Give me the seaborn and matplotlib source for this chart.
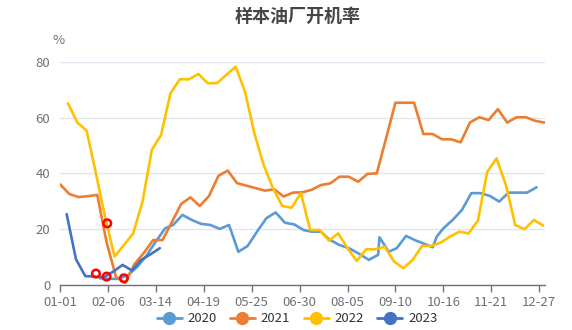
import matplotlib
matplotlib.use("Agg")
import matplotlib.pyplot as plt
from matplotlib.lines import Line2D
import seaborn as sns
import pandas as pd

# ---------------- data ----------------
tick_days = [0, 36, 72, 108, 144, 180, 216, 252, 288, 324, 360]
tick_labels = ['01-01', '02-06', '03-14', '04-19', '05-25', '06-30',
               '08-05', '09-10', '10-16', '11-21', '12-27']

days_2020 = [30, 37, 44, 51, 58, 65, 71, 79, 85, 92, 99, 106, 113, 120, 127,
             134, 141, 148, 155, 162, 169, 176, 183, 189, 196, 202, 210, 217,
             225, 232, 239, 240, 247, 253, 260, 267, 273, 280, 283, 288, 295,
             302, 309, 316, 323, 330, 337, 344, 351, 358]
vals_2020 = [2.4, 2.2, 2.2, 3.5, 6.5, 10.5, 14.9, 20.3, 21.5, 25.1, 23.3, 21.9,
             21.5, 20.1, 21.5, 11.9, 14.0, 19.1, 23.9, 26.0, 22.3, 21.7, 19.7,
             19.1, 19.1, 16.4, 14.3, 13.2, 11.1, 9.0, 10.8, 17.1, 11.9, 13.2,
             17.6, 16.0, 14.9, 13.5, 17.3, 20.3, 23.3, 26.9, 32.9, 32.9, 31.9,
             29.9, 33.1, 33.1, 33.1, 35.0]

days_2021 = list(range(0, 365, 7))
vals_2021 = [36.1, 32.6, 31.5, 31.8, 32.3, 15.3, 3.0, 0.8, 7.5, 11.5, 16.1, 16.1,
             22.5, 29.0, 31.4, 28.3, 31.9, 39.1, 41.0, 36.5, 35.6, 34.7, 33.8,
             34.3, 31.7, 33.1, 33.2, 34.1, 35.8, 36.4, 38.8, 38.8, 37.0, 39.8,
             40.0, 52.6, 65.3, 65.3, 65.3, 54.1, 54.1, 52.2, 52.2, 51.1, 58.2,
             60.1, 59.1, 63.0, 58.2, 60.1, 60.1, 58.8, 58.2]

days_2022 = list(range(6, 365, 7))
vals_2022 = [65.1, 58.2, 55.3, 40.0, 24.0, 10.2, 14.3, 18.5, 29.9, 48.4, 53.8,
             68.7, 73.7, 73.7, 75.6, 72.3, 72.3, 75.3, 78.2, 69.3, 54.4, 43.0,
             34.7, 28.3, 27.7, 32.9, 19.7, 19.7, 15.9, 18.5, 13.2, 8.6, 12.8,
             12.8, 13.7, 8.4, 6.0, 9.0, 14.0, 14.0, 15.2, 17.3, 19.1, 18.5,
             23.1, 40.6, 45.4, 35.8, 21.5, 20.0, 23.3, 21.3]

days_2023 = [5, 12, 19, 26, 33, 40, 47, 54, 61, 68, 75]
vals_2023 = [25.4, 9.2, 3.2, 3.0, 2.8, 4.8, 7.2, 5.2, 9.0, 11.0, 13.2]

circle_days = [27, 35, 48, 35.5]
circle_vals = [4.1, 3.0, 2.4, 22.1]

years = ['2020', '2021', '2022', '2023']
colors = ['#5B9BD5', '#ED7D31', '#FFC000', '#4472C4']

# ---------------- figure ----------------
sns.set_theme(style="white")
plt.rcParams['font.family'] = ['Noto Sans CJK SC', 'DejaVu Sans']

frames = []
for y, d, v in zip(years, [days_2020, days_2021, days_2022, days_2023],
                   [vals_2020, vals_2021, vals_2022, vals_2023]):
    frames.append(pd.DataFrame({'day': d, 'value': v, 'year': y}))
df = pd.concat(frames, ignore_index=True)

fig = plt.figure(figsize=(5.72, 3.30), dpi=100)
ax = fig.add_axes([60 / 572, 45 / 330, (544.5 - 60) / 572, (285 - 61.7) / 330])

sns.lineplot(data=df, x='day', y='value', hue='year', palette=dict(zip(years, colors)),
             estimator=None, sort=False, lw=1.9, legend=False, ax=ax)

ax.scatter(circle_days, circle_vals, s=30, facecolors='none', edgecolors='#FF0000',
           linewidths=1.8, zorder=5)

ax.set_xlim(0, 364)
ax.set_ylim(0, 80)
ax.set_yticks([0, 20, 40, 60, 80])
ax.set_xticks(tick_days)
ax.set_xticklabels(tick_labels)
ax.set_xlabel('')
ax.set_ylabel('')

ax.grid(axis='y', color='#E0E6F1', lw=1)
ax.grid(axis='x', visible=False)
for s in ['top', 'right', 'left']:
    ax.spines[s].set_visible(False)
ax.spines['bottom'].set_color('#6E7079')
ax.spines['bottom'].set_linewidth(1)
ax.tick_params(axis='x', colors='#6E7079', labelcolor='#6E7079', length=5, width=1,
               direction='out', pad=3, labelsize=9.5, bottom=True)
ax.tick_params(axis='y', colors='#6E7079', labelcolor='#6E7079', length=0, pad=7,
               labelsize=9.5, left=False)

fig.text(298 / 572, 1 - 16 / 330, '样本油厂开机率', ha='center', va='center',
         fontsize=13, fontweight='bold', color='#464646')
fig.text(59 / 572, 1 - 40 / 330, '%', ha='center', va='center', fontsize=9.5,
         color='#6E7079')

handles = [Line2D([0], [0], color=c, lw=2, marker='o', markersize=8.5,
                  markerfacecolor=c, markeredgecolor=c) for c in colors]
fig.legend(handles, years, loc='center', bbox_to_anchor=(297 / 572, 1 - 319 / 330),
           ncol=4, frameon=False, fontsize=9.5, handlelength=1.9, handletextpad=0.45,
           columnspacing=1.0, labelcolor='#333333')

fig.savefig('out.png', dpi=100)
